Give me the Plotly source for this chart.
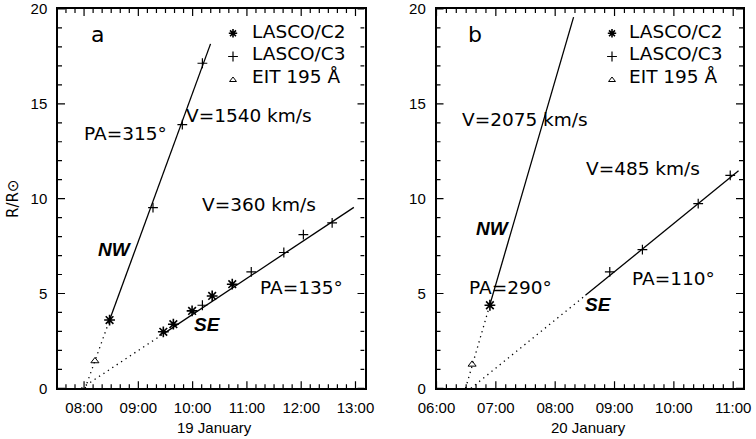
import plotly.graph_objects as go

W, H = 756, 439

# ---------------- data ----------------
# Panel a : 19 January
a_nw_c2_t = [8.47];                      a_nw_c2_r = [3.6]
a_nw_c3_t = [9.27, 9.81, 10.18];         a_nw_c3_r = [9.53, 13.9, 17.14]
a_eit_t = [8.20];                        a_eit_r = [1.44]
a_se_c2_t = [9.46, 9.645, 9.99, 10.36, 10.73]
a_se_c2_r = [2.98, 3.38, 4.08, 4.87, 5.49]
a_se_c3_t = [10.18, 11.08, 11.68, 12.04, 12.57]
a_se_c3_r = [4.38, 6.14, 7.16, 8.10, 8.72]
a_nw_fit_t = [8.02, 8.47, 10.33];        a_nw_fit_r = [0.0, 3.6, 18.16]
a_se_fit_t = [7.95, 9.46, 12.97];        a_se_fit_r = [0.0, 2.87, 9.54]

# Panel b : 20 January
b_nw_c2_t = [6.90];                      b_nw_c2_r = [4.38]
b_eit_t = [6.60];                        b_eit_r = [1.26]
b_se_c3_t = [8.92, 9.47, 10.41, 10.95];  b_se_c3_r = [6.14, 7.31, 9.74, 11.23]
b_nw_fit_t = [6.49, 6.90, 8.31];         b_nw_fit_r = [0.0, 4.41, 19.57]
b_se_fit_t = [6.58, 8.51, 11.09];        b_se_fit_r = [0.0, 4.90, 11.47]

a_xticks = [8, 9, 10, 11, 12, 13]
a_xlabels = ["08:00", "09:00", "10:00", "11:00", "12:00", "13:00"]
b_xticks = [6, 7, 8, 9, 10, 11]
b_xlabels = ["06:00", "07:00", "08:00", "09:00", "10:00", "11:00"]
yticks = [0, 5, 10, 15, 20]
legend_labels = ["LASCO/C2", "LASCO/C3", "EIT 195 Å"]

# ---------------- layout geometry (pixels) ----------------
A_L, A_R = 58, 364.5
B_L, B_R = 436.5, 743
P_T, P_B = 9, 388.3
A_RANGE = [7.52, 13.166]
B_RANGE = [6.0, 11.165]
Y_RANGE = [0, 20]
MAJ, MIN = 7, 4   # tick lengths in pixels

def px(x):
    return x / W

def py(y):
    return 1 - y / H

def to_data(x, y, L, R, rng):
    t = rng[0] + (x - L) / (R - L) * (rng[1] - rng[0])
    r = Y_RANGE[0] + (P_B - y) / (P_B - P_T) * (Y_RANGE[1] - Y_RANGE[0])
    return t, r

def tick_vals(rng, step):
    vals = []
    k = int(rng[0] / step) - 1
    while k * step <= rng[1] + 1e-9:
        v = k * step
        if rng[0] - 1e-9 <= v <= rng[1] + 1e-9:
            vals.append(round(v, 6))
        k += 1
    return vals

BLACK = "black"
STAR = dict(symbol="asterisk-open", size=9, color=BLACK, line=dict(color=BLACK, width=1.6))
CROSS = dict(symbol="cross-thin-open", size=7, color=BLACK, line=dict(color=BLACK, width=1.2))
TRI = dict(symbol="triangle-up-open", size=7, color=BLACK, line=dict(color=BLACK, width=1))
SOLID = dict(color=BLACK, width=1.3)
DOTTED = dict(color=BLACK, width=1.3, dash="1.3px,4px")

fig = go.Figure()

# tick marks (inside, on all four sides) drawn as a line trace per panel
for (L, R, rng, xa, ya) in [(A_L, A_R, A_RANGE, "x", "y"), (B_L, B_R, B_RANGE, "x2", "y2")]:
    r_per_px = (Y_RANGE[1] - Y_RANGE[0]) / (P_B - P_T)
    t_per_px = (rng[1] - rng[0]) / (R - L)
    tx, ty = [], []
    for v in tick_vals(rng, 1 / 6):
        ln = (MAJ if abs(v - round(v)) < 1e-6 else MIN) * r_per_px
        tx += [v, v, None, v, v, None]
        ty += [Y_RANGE[0], Y_RANGE[0] + ln, None, Y_RANGE[1], Y_RANGE[1] - ln, None]
    for v in tick_vals(Y_RANGE, 1):
        ln = (MAJ if v % 5 == 0 else MIN) * t_per_px
        tx += [rng[0], rng[0] + ln, None, rng[1], rng[1] - ln, None]
        ty += [v, v, None, v, v, None]
    fig.add_trace(go.Scatter(x=tx, y=ty, mode="lines", line=dict(color=BLACK, width=1.2),
                             xaxis=xa, yaxis=ya, showlegend=False, hoverinfo="skip",
                             connectgaps=False, cliponaxis=False))

def add_track(t, r, xa, ya):
    fig.add_trace(go.Scatter(x=t[:2], y=r[:2], mode="lines", line=DOTTED,
                             xaxis=xa, yaxis=ya, showlegend=False, hoverinfo="skip"))
    fig.add_trace(go.Scatter(x=t[1:], y=r[1:], mode="lines", line=SOLID,
                             xaxis=xa, yaxis=ya, showlegend=False, hoverinfo="skip"))

def add_markers(t, r, marker, xa, ya):
    fig.add_trace(go.Scatter(x=t, y=r, mode="markers", marker=marker,
                             xaxis=xa, yaxis=ya, showlegend=False))

# panel a
add_track(a_nw_fit_t, a_nw_fit_r, "x", "y")
add_track(a_se_fit_t, a_se_fit_r, "x", "y")
add_markers(a_nw_c2_t + a_se_c2_t, a_nw_c2_r + a_se_c2_r, STAR, "x", "y")
add_markers(a_nw_c3_t + a_se_c3_t, a_nw_c3_r + a_se_c3_r, CROSS, "x", "y")
add_markers(a_eit_t, a_eit_r, TRI, "x", "y")
# panel b
add_track(b_nw_fit_t, b_nw_fit_r, "x2", "y2")
add_track(b_se_fit_t, b_se_fit_r, "x2", "y2")
add_markers(b_nw_c2_t, b_nw_c2_r, STAR, "x2", "y2")
add_markers(b_se_c3_t, b_se_c3_r, CROSS, "x2", "y2")
add_markers(b_eit_t, b_eit_r, TRI, "x2", "y2")

# legend-like key inside each panel
ANN_FONT = dict(family="DejaVu Sans", size=18.5, color=BLACK)
annotations = []
key_rows_y = [33.3, 56.5, 80]
key_text_y = [31.5, 54, 77]
for (sym_x, txt_x, L, R, rng, xa, ya) in [
        (233, 250, A_L, A_R, A_RANGE, "x", "y"),
        (612, 627, B_L, B_R, B_RANGE, "x2", "y2")]:
    for mk, yy in zip([STAR, CROSS, TRI], key_rows_y):
        t, r = to_data(sym_x, yy, L, R, rng)
        m = dict(mk)
        if mk is STAR:
            m = dict(mk, size=7)
        if mk is TRI:
            m = dict(mk, size=6)
        add_markers([t], [r], m, xa, ya)
    for lab, yy in zip(legend_labels, key_text_y):
        annotations.append(dict(x=px(txt_x), y=py(yy), xref="paper", yref="paper",
                                text=lab, showarrow=False, xanchor="left",
                                yanchor="middle", font=ANN_FONT))

def label(text, x, y, anchor="left", font=ANN_FONT, angle=0):
    annotations.append(dict(x=px(x), y=py(y), xref="paper", yref="paper", text=text,
                            showarrow=False, xanchor=anchor, yanchor="middle",
                            font=font, textangle=angle))

BIG = dict(family="DejaVu Sans", size=22, color=BLACK)
BI = dict(family="Liberation Sans", size=19, color=BLACK, weight="bold", style="italic")
TICK = dict(family="Liberation Sans", size=15, color=BLACK)

label("a", 97, 34, "center", BIG)
label("b", 475, 34, "center", BIG)
label("V=1540 km/s", 184, 115)
label("PA=315°", 82, 133)
label("V=360 km/s", 200, 204)
label("NW", 115, 249, "center", BI)
label("PA=135°", 258, 287)
label("SE", 207, 324, "center", BI)
label("V=2075 km/s", 460, 120)
label("V=485 km/s", 584, 168)
label("NW", 493, 228, "center", BI)
label("PA=290°", 467, 287)
label("PA=110°", 630, 278)
label("SE", 598, 304, "center", BI)
label("19 January", 214, 427, "center", dict(family="Liberation Sans", size=15, color=BLACK))
label("20 January", 588, 427, "center", dict(family="Liberation Sans", size=15, color=BLACK))
label("R/R⊙", 13, 199, "center", dict(family="DejaVu Sans", size=15, color=BLACK), -90)

def xaxis(L, R, rng, ticks, labels):
    return dict(domain=[px(L), px(R)], range=rng, tickmode="array", tickvals=ticks,
                ticktext=labels, ticks="",
                showline=True, linewidth=1.5, linecolor=BLACK, mirror=True,
                showgrid=False, zeroline=False, tickfont=TICK, ticklabelstandoff=5,
                automargin=False, fixedrange=True)

def yaxis(anchor):
    return dict(domain=[py(P_B), py(P_T)], range=Y_RANGE, tickmode="array", tickvals=yticks,
                ticks="",
                showline=True, linewidth=1.5, linecolor=BLACK, mirror=True,
                showgrid=False, zeroline=False, tickfont=TICK, ticklabelstandoff=6,
                anchor=anchor, automargin=False, fixedrange=True)

fig.update_layout(
    width=W, height=H, margin=dict(l=0, r=0, t=0, b=0, autoexpand=False),
    paper_bgcolor="white", plot_bgcolor="white", showlegend=False,
    xaxis=xaxis(A_L, A_R, A_RANGE, a_xticks, a_xlabels) | dict(anchor="y"),
    xaxis2=xaxis(B_L, B_R, B_RANGE, b_xticks, b_xlabels) | dict(anchor="y2"),
    yaxis=yaxis("x"),
    yaxis2=yaxis("x2"),
    annotations=annotations,
)

fig.write_html("out.html")
